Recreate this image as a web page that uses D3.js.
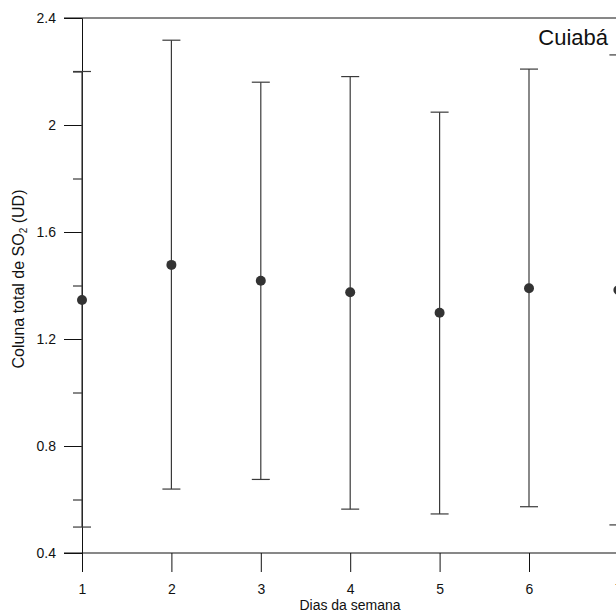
<!DOCTYPE html>
<html>
<head>
<meta charset="utf-8">
<script src="https://cdn.jsdelivr.net/npm/d3@7/dist/d3.min.js"></script>
<style>
  html, body { margin: 0; padding: 0; background: #fff; }
  svg { display: block; font-family: "Liberation Sans", Arial, sans-serif; }
</style>
</head>
<body>
<svg id="chart" width="616" height="611"></svg>
<script>
// Weekly SO2 total column, Cuiabá: mean and range per weekday
const days = [1, 2, 3, 4, 5, 6, 7];
const meanValues = [1.346, 1.477, 1.418, 1.375, 1.298, 1.390, 1.383];
const upperValues = [2.20, 2.317, 2.160, 2.181, 2.048, 2.209, 2.262];
const lowerValues = [0.497, 0.639, 0.675, 0.564, 0.546, 0.573, 0.505];
const yMajorTicks = [0.4, 0.8, 1.2, 1.6, 2.0, 2.4];
const yMinorTicks = [0.6, 1.0, 1.4, 1.8, 2.2];
const yTickLabels = ["0.4", "0.8", "1.2", "1.6", "2", "2.4"];

const svg = d3.select("#chart");
const W = 616;
const font = "Liberation Sans, Arial, sans-serif";

const x = d3.scaleLinear().domain([1, 7]).range([82, 618.4]);
const y = d3.scaleLinear().domain([0.4, 2.4]).range([553, 18]);

const axisColor = "#111";
const barColor = "#3a3a3a";

// top frame line
svg.append("line").attr("x1", 64).attr("x2", W).attr("y1", y(2.4)).attr("y2", y(2.4))
  .attr("stroke", axisColor).attr("stroke-width", 1);

// y axis with major ticks and labels
const yAxis = d3.axisLeft(y).tickValues(yMajorTicks).tickSize(18)
  .tickFormat((d, i) => yTickLabels[i]).tickPadding(8);
const gy = svg.append("g").attr("transform", `translate(${x(1)},0)`).call(yAxis);
gy.select(".domain").attr("stroke", axisColor);
gy.selectAll(".tick line").attr("stroke", axisColor);
gy.selectAll(".tick text").attr("font-size", 14).attr("fill", "#111").attr("font-family", font);

// minor y ticks
const yMinor = d3.axisLeft(y).tickValues(yMinorTicks).tickSize(9).tickFormat("");
const gym = svg.append("g").attr("transform", `translate(${x(1)},0)`).call(yMinor);
gym.select(".domain").remove();
gym.selectAll(".tick line").attr("stroke", axisColor);

// x axis at the bottom
const xAxis = d3.axisBottom(x).tickValues(days).tickSize(19).tickFormat(d3.format("d")).tickPadding(12);
const gx = svg.append("g").attr("transform", `translate(0,${y(0.4)})`).call(xAxis);
gx.select(".domain").remove();
gx.selectAll(".tick line").attr("stroke", axisColor);
gx.selectAll(".tick text").attr("font-size", 14).attr("fill", "#111").attr("font-family", font);
svg.append("line").attr("x1", 64).attr("x2", W).attr("y1", y(0.4)).attr("y2", y(0.4))
  .attr("stroke", axisColor).attr("stroke-width", 1);

// error bars
const capHalf = 9;
const bars = svg.append("g").attr("stroke", barColor).attr("stroke-width", 1.2);
days.forEach((d, i) => {
  bars.append("line").attr("x1", x(d)).attr("x2", x(d))
    .attr("y1", y(upperValues[i])).attr("y2", y(lowerValues[i]));
  bars.append("line").attr("x1", x(d) - capHalf).attr("x2", x(d) + capHalf)
    .attr("y1", y(upperValues[i])).attr("y2", y(upperValues[i]));
  bars.append("line").attr("x1", x(d) - capHalf).attr("x2", x(d) + capHalf)
    .attr("y1", y(lowerValues[i])).attr("y2", y(lowerValues[i]));
});

// mean markers
svg.append("g").selectAll("circle").data(days).join("circle")
  .attr("cx", d => x(d)).attr("cy", (d, i) => y(meanValues[i]))
  .attr("r", 5).attr("fill", "#333");

// axis titles
svg.append("text").attr("x", 350).attr("y", 609.5).attr("text-anchor", "middle")
  .attr("font-size", 14).attr("fill", "#111").text("Dias da semana");

const yt = svg.append("text").attr("transform", "translate(24,279) rotate(-90)")
  .attr("text-anchor", "middle").attr("font-size", 16).attr("fill", "#111");
yt.append("tspan").text("Coluna total de SO");
yt.append("tspan").attr("font-size", 10).attr("dy", 3).text("2");
yt.append("tspan").attr("dy", -3).text(" (UD)");

// station label
svg.append("text").attr("x", 608).attr("y", 45).attr("text-anchor", "end")
  .attr("font-size", 22).attr("fill", "#111").text("Cuiabá");
</script>
</body>
</html>
